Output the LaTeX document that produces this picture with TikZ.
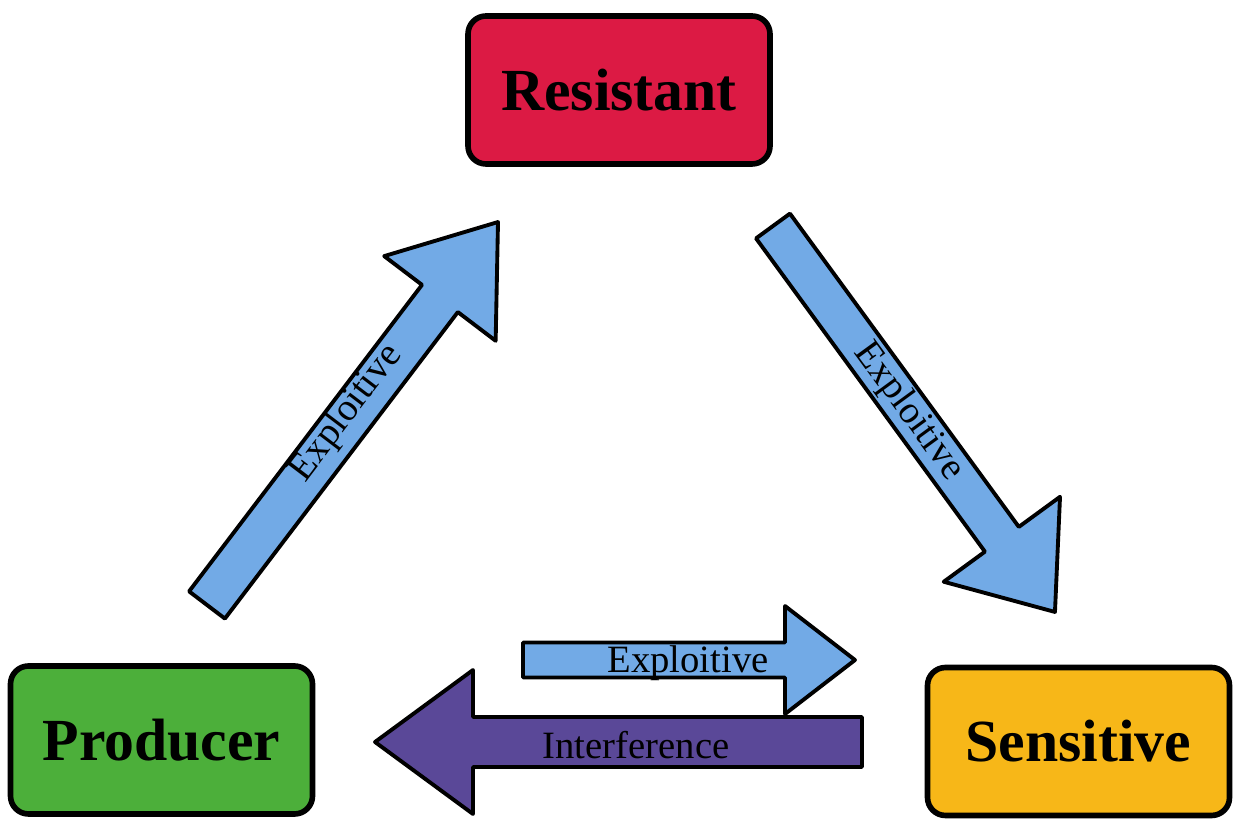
\documentclass[tikz,border=0pt]{standalone}
\usepackage{fontspec}
\setmainfont{Liberation Serif}
\usepackage{tikz}
\usetikzlibrary{positioning}
\usepackage{xcolor}
\definecolor{ResistRed}{HTML}{DC1A44}
\definecolor{ProdGreen}{HTML}{4CAF3A}
\definecolor{SensYellow}{HTML}{F7B718}
\definecolor{ArrowBlue}{HTML}{72AAE6}
\definecolor{ArrowPurple}{HTML}{5A4898}

\tikzset{
  cellbox/.style={draw, line width=1.6pt, rounded corners=0.18cm, minimum width=3.02cm,
    minimum height=1.48cm, font=\fontsize{17}{20}\selectfont\bfseries},
  fatarrow/.style={draw, line width=1.1pt, line join=round},
  arrowlabel/.style={font=\fontsize{11}{13}\selectfont, inner sep=0pt}
}

\begin{document}
\begin{tikzpicture}
    \useasboundingbox (0,0) rectangle (12.33,-8.21);

    % Strains
    \node[cellbox, fill=ResistRed] (resistant) at (6.19,-0.90) {Resistant};
    \node[cellbox, fill=ProdGreen] (producer) at (1.615,-7.40) {Producer};
    \node[cellbox, fill=SensYellow] (sensitive) at (10.785,-7.415) {Sensitive};

    % Producer to Resistant
    \begin{scope}[shift={(2.07,-6.05)}, rotate=52.77]
        \draw[fatarrow, fill=ArrowBlue] (0,-0.225) -- (3.85,-0.225) -- (3.85,-0.70) -- (4.81,0)
            -- (3.85,0.70) -- (3.85,0.225) -- (0,0.225) -- cycle;
        \node[arrowlabel, rotate=52.77] (pr) at (2.37,0.05) {Exploitive};
    \end{scope}

    % Resistant to Sensitive
    \begin{scope}[shift={(7.73,-2.26)}, rotate=-53.85]
        \draw[fatarrow, fill=ArrowBlue] (0,-0.21) -- (3.88,-0.21) -- (3.88,-0.72) -- (4.78,0)
            -- (3.88,0.72) -- (3.88,0.21) -- (0,0.21) -- cycle;
        \node[arrowlabel, rotate=-53.85] (rs) at (2.3,0) {Exploitive};
    \end{scope}

    % Producer to Sensitive
    \begin{scope}[shift={(5.23,-6.60)}]
        \draw[fatarrow, fill=ArrowBlue] (0,-0.175) -- (2.62,-0.175) -- (2.62,-0.54) -- (3.32,0)
            -- (2.62,0.54) -- (2.62,0.175) -- (0,0.175) -- cycle;
        \node[arrowlabel] (ps) at (1.65,-0.03) {Exploitive};
    \end{scope}

    % Sensitive to Producer
    \draw[fatarrow, fill=ArrowPurple] (8.62,-7.17) -- (4.73,-7.17) -- (4.73,-6.70) -- (3.75,-7.42)
        -- (4.73,-8.14) -- (4.73,-7.67) -- (8.62,-7.67) -- cycle;
    \node[arrowlabel] (sp) at (6.36,-7.45) {Interference};
\end{tikzpicture}
\end{document}
